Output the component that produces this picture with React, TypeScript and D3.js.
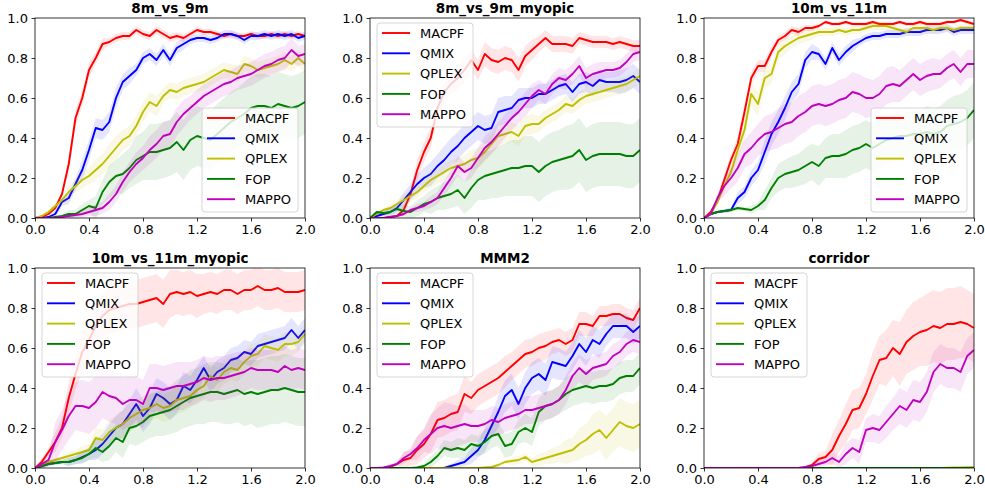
import React, { useEffect, useRef } from 'react';
import * as d3 from 'd3';

// x grid: training steps (millions), every 0.05
const steps = d3.range(41).map(i => i / 20);
const methods = ["MACPF", "QMIX", "QPLEX", "FOP", "MAPPO"];
const colors = ["#ff0000", "#0000ff", "#bfbf00", "#008000", "#bf00bf"];
const xTicks = [0, 0.4, 0.8, 1.2, 1.6, 2.0];
const yTicks = [0, 0.2, 0.4, 0.6, 0.8, 1.0];
const titles = ["8m_vs_9m", "8m_vs_9m_myopic", "10m_vs_11m", "10m_vs_11m_myopic", "MMM2", "corridor"];

const zeros41 = [0,0,0,0,0,0,0,0,0,0, 0,0,0,0,0,0,0,0,0,0, 0,0,0,0,0,0,0,0,0,0, 0,0,0,0,0,0,0,0,0,0, 0];
const zeros21 = [0,0,0,0,0,0,0,0,0,0, 0,0,0,0,0,0,0,0,0,0, 0];

// 8m_vs_9m
const a_macpf = [0,0.005,0.02,0.05,0.12,0.27,0.5,0.6,0.74,0.8, 0.87,0.88,0.9,0.91,0.91,0.94,0.92,0.91,0.94,0.92, 0.9,0.91,0.9,0.92,0.94,0.93,0.93,0.92,0.91,0.92, 0.91,0.91,0.92,0.91,0.91,0.92,0.91,0.92,0.91,0.92, 0.91];
const a_qmix = [0,0,0.005,0.02,0.08,0.1,0.17,0.24,0.34,0.45, 0.44,0.48,0.6,0.68,0.71,0.74,0.8,0.82,0.79,0.84, 0.79,0.85,0.87,0.89,0.9,0.9,0.89,0.9,0.92,0.92, 0.91,0.89,0.91,0.91,0.92,0.91,0.92,0.91,0.92,0.9, 0.91];
const a_qplex = [0,0.01,0.03,0.06,0.09,0.13,0.16,0.19,0.21,0.24, 0.27,0.31,0.35,0.39,0.41,0.46,0.53,0.58,0.56,0.61, 0.64,0.63,0.65,0.66,0.67,0.68,0.7,0.72,0.74,0.73, 0.72,0.77,0.76,0.74,0.75,0.76,0.77,0.79,0.77,0.8, 0.77];
const a_fop = [0,0,0,0.005,0.01,0.02,0.02,0.04,0.06,0.05, 0.13,0.18,0.21,0.22,0.25,0.29,0.31,0.33,0.33,0.34, 0.35,0.38,0.34,0.39,0.41,0.4,0.39,0.42,0.45,0.48, 0.5,0.52,0.55,0.56,0.56,0.55,0.57,0.56,0.55,0.56, 0.58];
const a_mappo = [0,0,0,0,0.005,0.01,0.015,0.02,0.03,0.04, 0.05,0.08,0.12,0.18,0.23,0.27,0.3,0.34,0.37,0.41, 0.42,0.48,0.52,0.55,0.58,0.61,0.63,0.65,0.67,0.68, 0.7,0.71,0.72,0.74,0.76,0.77,0.79,0.8,0.84,0.81, 0.82];
// spread (every 0.1)
const a_macpf_sd = [0,0.005,0.01,0.04,0.04,0.03,0.02,0.02,0.02,0.02,0.02,0.02,0.015,0.015,0.015,0.015,0.015,0.015,0.015,0.015,0.015];
const a_qmix_sd = [0,0.003,0.02,0.03,0.05,0.05,0.05,0.04,0.03,0.03,0.03,0.03,0.02,0.02,0.02,0.02,0.02,0.02,0.02,0.02,0.02];
const a_qplex_sd = [0,0.01,0.02,0.03,0.04,0.05,0.06,0.05,0.05,0.05,0.04,0.04,0.04,0.04,0.04,0.04,0.04,0.04,0.04,0.04,0.04];
const a_fop_sd = [0,0,0.005,0.02,0.03,0.06,0.08,0.1,0.12,0.14,0.14,0.15,0.15,0.15,0.15,0.15,0.16,0.16,0.16,0.16,0.16];
const a_mappo_sd = [0,0,0.005,0.01,0.02,0.03,0.04,0.05,0.06,0.07,0.07,0.07,0.06,0.06,0.06,0.06,0.06,0.06,0.06,0.06,0.05];

// 8m_vs_9m_myopic
const b_macpf = [0,0,0,0.005,0.01,0.04,0.12,0.24,0.33,0.4, 0.55,0.63,0.67,0.7,0.74,0.79,0.74,0.82,0.79,0.78, 0.8,0.79,0.74,0.81,0.84,0.87,0.9,0.87,0.87,0.87, 0.86,0.9,0.89,0.88,0.88,0.88,0.87,0.88,0.87,0.86, 0.86];
const b_qmix = [0,0.01,0.02,0.03,0.05,0.09,0.13,0.17,0.2,0.22, 0.26,0.29,0.33,0.36,0.4,0.43,0.46,0.44,0.45,0.53, 0.54,0.55,0.59,0.6,0.6,0.62,0.62,0.64,0.66,0.67, 0.63,0.67,0.68,0.66,0.69,0.68,0.68,0.68,0.69,0.71, 0.68];
const b_qplex = [0,0.02,0.04,0.05,0.07,0.09,0.11,0.13,0.16,0.19, 0.21,0.23,0.25,0.26,0.27,0.29,0.3,0.33,0.37,0.41, 0.42,0.43,0.41,0.46,0.47,0.47,0.5,0.52,0.54,0.57, 0.56,0.59,0.61,0.62,0.63,0.64,0.65,0.66,0.67,0.69, 0.71];
const b_fop = [0,0.03,0.025,0.03,0.045,0.035,0.03,0.05,0.07,0.08, 0.1,0.11,0.12,0.14,0.1,0.15,0.19,0.21,0.22,0.23, 0.24,0.25,0.25,0.26,0.26,0.23,0.26,0.28,0.29,0.3, 0.31,0.34,0.29,0.31,0.32,0.32,0.32,0.32,0.31,0.31, 0.34];
const b_mappo = [0,0,0,0.005,0.01,0.02,0.04,0.05,0.06,0.08, 0.1,0.15,0.2,0.26,0.23,0.25,0.3,0.35,0.38,0.42, 0.46,0.5,0.53,0.57,0.61,0.64,0.62,0.67,0.7,0.69, 0.72,0.76,0.7,0.72,0.73,0.74,0.74,0.75,0.78,0.82, 0.83];
const b_macpf_sd = [0,0,0.005,0.03,0.05,0.05,0.05,0.06,0.05,0.06,0.06,0.06,0.05,0.04,0.04,0.04,0.03,0.03,0.03,0.03,0.03];
const b_qmix_sd = [0,0.01,0.02,0.04,0.05,0.06,0.07,0.07,0.07,0.07,0.07,0.06,0.05,0.05,0.05,0.05,0.05,0.05,0.05,0.06,0.06];
const b_qplex_sd = [0,0.01,0.02,0.03,0.03,0.04,0.04,0.04,0.05,0.05,0.05,0.05,0.05,0.04,0.04,0.04,0.04,0.04,0.04,0.04,0.04];
const b_fop_sd = [0,0.01,0.02,0.03,0.04,0.06,0.07,0.08,0.1,0.12,0.13,0.14,0.15,0.15,0.15,0.16,0.16,0.16,0.16,0.16,0.16];
const b_mappo_sd = [0,0,0.005,0.01,0.02,0.03,0.04,0.05,0.05,0.06,0.06,0.06,0.06,0.05,0.05,0.05,0.05,0.05,0.04,0.04,0.04];

// 10m_vs_11m
const c_macpf = [0,0.03,0.09,0.19,0.29,0.37,0.53,0.7,0.76,0.76, 0.83,0.89,0.91,0.94,0.93,0.95,0.95,0.96,0.98,0.97, 0.97,0.98,0.97,0.97,0.97,0.98,0.97,0.97,0.97,0.98, 0.97,0.97,0.98,0.97,0.97,0.97,0.98,0.98,0.99,0.98, 0.97];
const c_qmix = [0,0.02,0.03,0.035,0.04,0.1,0.13,0.2,0.24,0.33, 0.42,0.48,0.55,0.63,0.67,0.79,0.83,0.82,0.77,0.85, 0.79,0.83,0.86,0.88,0.9,0.91,0.91,0.92,0.92,0.92, 0.93,0.93,0.93,0.94,0.94,0.94,0.95,0.93,0.94,0.94, 0.94];
const c_qplex = [0,0.02,0.08,0.16,0.23,0.34,0.44,0.62,0.57,0.7, 0.72,0.83,0.86,0.88,0.9,0.91,0.92,0.93,0.93,0.93, 0.94,0.93,0.94,0.94,0.95,0.96,0.96,0.96,0.95,0.94, 0.93,0.95,0.95,0.95,0.94,0.95,0.95,0.94,0.95,0.95, 0.95];
const c_fop = [0,0.02,0.03,0.035,0.04,0.05,0.045,0.04,0.06,0.09, 0.15,0.2,0.22,0.23,0.24,0.26,0.28,0.26,0.3,0.31, 0.31,0.32,0.34,0.35,0.37,0.35,0.37,0.39,0.4,0.41, 0.41,0.42,0.42,0.43,0.42,0.43,0.46,0.47,0.48,0.5, 0.54];
const c_mappo = [0,0.02,0.1,0.16,0.2,0.25,0.32,0.35,0.39,0.42, 0.43,0.45,0.47,0.48,0.51,0.53,0.56,0.57,0.56,0.57, 0.59,0.6,0.63,0.62,0.6,0.6,0.62,0.66,0.67,0.66, 0.69,0.72,0.69,0.71,0.72,0.72,0.75,0.77,0.73,0.77, 0.77];
const c_macpf_sd = [0,0.01,0.03,0.04,0.03,0.03,0.02,0.02,0.015,0.01,0.01,0.01,0.01,0.01,0.01,0.01,0.01,0.01,0.01,0.01,0.01];
const c_qmix_sd = [0,0.005,0.01,0.03,0.04,0.06,0.06,0.05,0.04,0.03,0.03,0.03,0.02,0.02,0.02,0.02,0.02,0.02,0.02,0.02,0.02];
const c_qplex_sd = [0,0.01,0.03,0.05,0.06,0.05,0.04,0.03,0.03,0.02,0.02,0.02,0.02,0.02,0.02,0.02,0.02,0.02,0.02,0.02,0.02];
const c_fop_sd = [0,0.005,0.01,0.01,0.02,0.05,0.07,0.08,0.09,0.1,0.11,0.12,0.12,0.12,0.12,0.12,0.12,0.13,0.13,0.14,0.14];
const c_mappo_sd = [0,0.02,0.05,0.07,0.08,0.09,0.1,0.1,0.1,0.1,0.1,0.1,0.1,0.09,0.09,0.08,0.08,0.08,0.07,0.07,0.07];

// 10m_vs_11m_myopic
const d_macpf = [0,0.03,0.08,0.13,0.2,0.35,0.47,0.58,0.64,0.71, 0.76,0.79,0.8,0.81,0.82,0.82,0.83,0.84,0.85,0.82, 0.87,0.88,0.87,0.88,0.86,0.87,0.88,0.87,0.89,0.89, 0.87,0.89,0.89,0.91,0.89,0.89,0.9,0.88,0.88,0.88, 0.89];
const d_qmix = [0,0.01,0.02,0.025,0.03,0.03,0.04,0.055,0.07,0.09, 0.12,0.16,0.2,0.22,0.27,0.32,0.26,0.3,0.37,0.35, 0.32,0.34,0.41,0.39,0.44,0.5,0.44,0.48,0.5,0.54, 0.55,0.58,0.57,0.61,0.62,0.63,0.64,0.65,0.69,0.65, 0.69];
const d_qplex = [0,0.015,0.03,0.04,0.05,0.06,0.07,0.08,0.09,0.15, 0.14,0.18,0.2,0.22,0.25,0.27,0.29,0.3,0.32,0.3, 0.31,0.34,0.35,0.36,0.39,0.41,0.46,0.44,0.48,0.5, 0.49,0.53,0.56,0.57,0.61,0.6,0.59,0.62,0.62,0.63, 0.67];
const d_fop = [0,0.01,0.02,0.025,0.03,0.03,0.04,0.05,0.07,0.1, 0.08,0.11,0.15,0.13,0.2,0.21,0.23,0.26,0.27,0.28, 0.29,0.31,0.33,0.35,0.36,0.37,0.38,0.38,0.37,0.38, 0.39,0.37,0.38,0.37,0.38,0.39,0.39,0.4,0.39,0.38, 0.38];
const d_mappo = [0,0.02,0.04,0.13,0.19,0.26,0.31,0.31,0.3,0.33, 0.38,0.36,0.35,0.32,0.34,0.34,0.32,0.4,0.4,0.39, 0.4,0.41,0.41,0.42,0.43,0.45,0.44,0.45,0.45,0.46, 0.47,0.48,0.5,0.49,0.49,0.49,0.48,0.51,0.49,0.5, 0.49];
const d_macpf_sd = [0,0.02,0.05,0.08,0.1,0.11,0.12,0.12,0.12,0.12,0.12,0.11,0.11,0.1,0.1,0.1,0.1,0.1,0.1,0.1,0.1];
const d_qmix_sd = [0,0.01,0.01,0.02,0.03,0.05,0.06,0.07,0.08,0.08,0.08,0.07,0.07,0.06,0.06,0.06,0.06,0.06,0.06,0.06,0.06];
const d_qplex_sd = [0,0.01,0.01,0.02,0.03,0.05,0.06,0.07,0.07,0.07,0.07,0.07,0.06,0.06,0.06,0.06,0.06,0.06,0.06,0.06,0.05];
const d_fop_sd = [0,0.01,0.01,0.02,0.03,0.05,0.07,0.08,0.1,0.11,0.12,0.13,0.14,0.15,0.15,0.16,0.16,0.17,0.17,0.17,0.17];
const d_mappo_sd = [0,0.03,0.1,0.12,0.13,0.13,0.13,0.13,0.12,0.12,0.12,0.12,0.11,0.11,0.11,0.11,0.1,0.1,0.1,0.1,0.1];

// MMM2
const e_macpf = [0,0,0,0.005,0.02,0.04,0.05,0.09,0.12,0.17, 0.24,0.25,0.27,0.28,0.37,0.35,0.39,0.41,0.43,0.45, 0.48,0.51,0.54,0.57,0.58,0.6,0.61,0.63,0.64,0.62, 0.64,0.72,0.72,0.71,0.76,0.76,0.77,0.77,0.75,0.74, 0.8];
const e_qmix = [0,0,0,0,0,0,0,0,0,0, 0,0,0.01,0.02,0.03,0.06,0.09,0.14,0.21,0.28, 0.36,0.39,0.32,0.4,0.45,0.47,0.44,0.53,0.52,0.51, 0.56,0.62,0.58,0.64,0.62,0.67,0.71,0.71,0.71,0.68, 0.71];
const e_qplex = [0,0,0,0,0,0,0,0,0,0, 0,0,0,0,0,0,0,0.003,0.005,0.015, 0.03,0.035,0.04,0.055,0.03,0.04,0.05,0.06,0.07,0.08, 0.09,0.12,0.14,0.17,0.19,0.15,0.19,0.23,0.21,0.2, 0.22];
const e_fop = [0,0,0,0,0,0,0,0.003,0.01,0.03, 0.06,0.1,0.09,0.1,0.09,0.12,0.11,0.13,0.16,0.17, 0.11,0.12,0.18,0.2,0.18,0.28,0.31,0.32,0.34,0.37, 0.39,0.4,0.41,0.4,0.41,0.41,0.42,0.45,0.46,0.46, 0.5];
const e_mappo = [0,0,0.003,0.01,0.02,0.05,0.07,0.1,0.14,0.17, 0.2,0.21,0.2,0.21,0.22,0.21,0.21,0.22,0.24,0.23, 0.25,0.26,0.27,0.29,0.29,0.3,0.31,0.32,0.34,0.39, 0.46,0.5,0.47,0.5,0.51,0.52,0.56,0.58,0.62,0.64, 0.63];
const e_macpf_sd = [0,0,0.01,0.04,0.07,0.09,0.09,0.09,0.08,0.08,0.08,0.07,0.07,0.07,0.06,0.06,0.06,0.05,0.05,0.05,0.05];
const e_qmix_sd = [0,0,0,0,0,0,0.01,0.02,0.04,0.06,0.08,0.08,0.08,0.08,0.08,0.07,0.07,0.07,0.06,0.06,0.06];
const e_qplex_sd = [0,0,0,0,0,0,0,0,0,0.005,0.01,0.02,0.02,0.03,0.04,0.06,0.08,0.1,0.11,0.12,0.12];
const e_fop_sd = [0,0,0,0,0.01,0.03,0.04,0.05,0.05,0.06,0.06,0.06,0.07,0.07,0.07,0.08,0.08,0.08,0.08,0.08,0.08];
const e_mappo_sd = [0,0,0.01,0.03,0.06,0.1,0.12,0.1,0.08,0.07,0.07,0.07,0.07,0.07,0.07,0.07,0.07,0.06,0.06,0.06,0.06];

// corridor
const f_macpf = [0,0,0,0,0,0,0,0,0,0, 0,0,0,0,0,0.003,0.015,0.045,0.055,0.09, 0.16,0.22,0.29,0.3,0.37,0.46,0.54,0.55,0.6,0.57, 0.63,0.66,0.68,0.69,0.71,0.7,0.72,0.72,0.73,0.72, 0.7];
const f_qplex = [0,0,0,0,0,0,0,0,0,0, 0,0,0,0,0,0,0,0,0,0, 0,0,0,0,0,0,0,0,0,0, 0,0,0,0,0,0,0.002,0.003,0.003,0.004, 0.004];
const f_mappo = [0,0,0,0,0,0,0,0,0,0, 0,0,0,0,0,0.005,0.01,0.02,0.03,0.05, 0.03,0.07,0.1,0.08,0.19,0.2,0.19,0.23,0.27,0.31, 0.29,0.34,0.33,0.38,0.48,0.52,0.5,0.5,0.48,0.56, 0.59];
const f_macpf_sd = [0,0,0,0,0,0,0,0,0.01,0.03,0.08,0.1,0.1,0.12,0.14,0.16,0.17,0.18,0.18,0.18,0.17];
const f_mappo_sd = [0,0,0,0,0,0,0,0,0.005,0.02,0.03,0.05,0.06,0.07,0.08,0.09,0.1,0.1,0.1,0.1,0.09];

const panels = [
  { means: [a_macpf, a_qmix, a_qplex, a_fop, a_mappo], sds: [a_macpf_sd, a_qmix_sd, a_qplex_sd, a_fop_sd, a_mappo_sd] },
  { means: [b_macpf, b_qmix, b_qplex, b_fop, b_mappo], sds: [b_macpf_sd, b_qmix_sd, b_qplex_sd, b_fop_sd, b_mappo_sd] },
  { means: [c_macpf, c_qmix, c_qplex, c_fop, c_mappo], sds: [c_macpf_sd, c_qmix_sd, c_qplex_sd, c_fop_sd, c_mappo_sd] },
  { means: [d_macpf, d_qmix, d_qplex, d_fop, d_mappo], sds: [d_macpf_sd, d_qmix_sd, d_qplex_sd, d_fop_sd, d_mappo_sd] },
  { means: [e_macpf, e_qmix, e_qplex, e_fop, e_mappo], sds: [e_macpf_sd, e_qmix_sd, e_qplex_sd, e_fop_sd, e_mappo_sd] },
  { means: [f_macpf, zeros41, f_qplex, zeros41, f_mappo], sds: [f_macpf_sd, zeros21, zeros21, zeros21, f_mappo_sd] },
];

const FONT = "DejaVu Sans, sans-serif";

const App = () => {
  const chartRef = useRef<SVGSVGElement>(null);

  useEffect(() => {
    const colX = [35, 370, 704];
    const rowY = [18, 268];
    const W = 270;
    const H = 200;
    const legendLoc = ["lr", "ul", "lr", "ul", "ul", "ul"];

    const svg = d3.select(chartRef.current);
    svg.selectAll("*").remove();

    panels.forEach((p, pi) => {
      const left = colX[pi % 3];
      const top = rowY[Math.floor(pi / 3)];
      const x = d3.scaleLinear().domain([0, 2]).range([left, left + W]);
      const y = d3.scaleLinear().domain([0, 1]).range([top + H, top]);
      const g = svg.append("g");

      const clipId = `clip${pi}`;
      g.append("clipPath").attr("id", clipId)
        .append("rect").attr("x", left).attr("y", top).attr("width", W).attr("height", H);
      const plot = g.append("g").attr("clip-path", `url(#${clipId})`);

      p.means.forEach((m, si) => {
        const sd = p.sds[si];
        const band = d3.area<number>()
          .x((_, i) => x(steps[i]))
          .y0((v, i) => y(v - sd[Math.round(i / 2)]))
          .y1((v, i) => y(v + sd[Math.round(i / 2)]));
        plot.append("path").attr("d", band(m)).attr("fill", colors[si]).attr("fill-opacity", 0.1);
        const line = d3.line<number>().x((_, i) => x(steps[i])).y(v => y(v));
        plot.append("path").attr("d", line(m)).attr("fill", "none")
          .attr("stroke", colors[si]).attr("stroke-width", 1.9).attr("stroke-linejoin", "round");
      });

      const xAxis = g.append("g").attr("transform", `translate(0,${top + H})`)
        .call(d3.axisBottom(x).tickValues(xTicks).tickFormat(d3.format(".1f")).tickSize(3.5).tickPadding(3.5));
      const yAxis = g.append("g").attr("transform", `translate(${left},0)`)
        .call(d3.axisLeft(y).tickValues(yTicks).tickFormat(d3.format(".1f")).tickSize(3.5).tickPadding(3.5));
      [xAxis, yAxis].forEach(a => {
        a.attr("font-family", FONT).attr("font-size", 13);
        a.select(".domain").remove();
        a.selectAll("line").attr("stroke", "#000").attr("stroke-width", 0.8);
        a.selectAll("text").attr("fill", "#000");
      });

      g.append("rect").attr("x", left).attr("y", top).attr("width", W).attr("height", H)
        .attr("fill", "none").attr("stroke", "#000").attr("stroke-width", 0.8);

      g.append("text").attr("x", left + W / 2).attr("y", top - 5)
        .attr("text-anchor", "middle").attr("font-family", FONT)
        .attr("font-weight", "bold").attr("font-size", 13.5).text(titles[pi]);

      // legend
      const bw = 96, bh = 104;
      const bx = legendLoc[pi] === "lr" ? left + W - 7 - bw : left + 7;
      const by = legendLoc[pi] === "lr" ? top + H - 6 - bh : top + 5;
      const lg = g.append("g");
      lg.append("rect").attr("x", bx).attr("y", by).attr("width", bw).attr("height", bh)
        .attr("rx", 3).attr("fill", "#fff").attr("fill-opacity", 0.8)
        .attr("stroke", "#cccccc").attr("stroke-width", 0.8);
      methods.forEach((name, si) => {
        const cy = by + 10 + si * 20.3;
        lg.append("line").attr("x1", bx + 5).attr("x2", bx + 33).attr("y1", cy).attr("y2", cy)
          .attr("stroke", colors[si]).attr("stroke-width", 1.9);
        lg.append("text").attr("x", bx + 43).attr("y", cy).attr("dy", "0.36em")
          .attr("font-family", FONT).attr("font-size", 13).text(name);
      });
    });
  }, []);

  return (
    <svg ref={chartRef} width={985} height={488}
      style={{ position: "absolute", left: 0, top: 0, background: "#fff" }}></svg>
  );
};

export default App;
